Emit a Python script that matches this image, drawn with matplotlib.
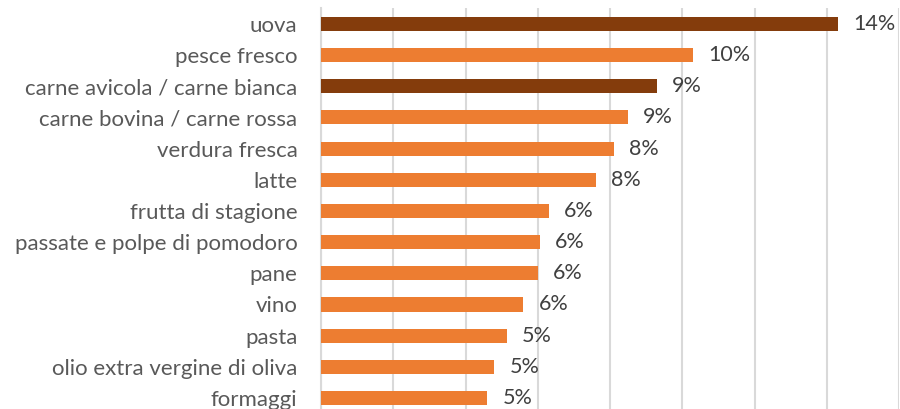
import matplotlib
matplotlib.use("Agg")
import matplotlib.pyplot as plt
import numpy as np

categories = ["uova", "pesce fresco", "carne avicola / carne bianca",
              "carne bovina / carne rossa", "verdura fresca", "latte",
              "frutta di stagione", "passate e polpe di pomodoro", "pane",
              "vino", "pasta", "olio extra vergine di oliva", "formaggi"]
values = [14.3, 10.3, 9.3, 8.5, 8.1, 7.6, 6.3, 6.05, 6.0, 5.6, 5.15, 4.8, 4.6]
labels = ["14%", "10%", "9%", "9%", "8%", "8%", "6%", "6%", "6%", "6%", "5%", "5%", "5%"]
highlight = [True, False, True, False, False, False, False, False, False, False, False, False, False]

plt.rcParams['font.family'] = ['Lato', 'DejaVu Sans']

fig = plt.figure(figsize=(9, 4.09), dpi=100)
ax = fig.add_axes([0.3567, -0.0112, 0.999 - 0.3567, 0.9795 + 0.0112])

y = np.arange(len(categories))
colors = ["#843C0C" if h else "#ED7D31" for h in highlight]
ax.barh(y, values, height=0.45, color=colors, zorder=3)
for yi, v, lab in zip(y, values, labels):
    ax.text(v + 0.42, yi, lab, va="center", ha="left", fontsize=15.5, color="#404040")

ax.set_ylim(len(categories) - 0.5, -0.5)
ax.set_xlim(0, 16)
ax.set_xticks(np.arange(0, 17, 2))
ax.xaxis.grid(True, color="#D9D9D9", linewidth=1.5, zorder=0)
ax.tick_params(axis="x", bottom=False, labelbottom=False)
ax.set_yticks(y)
ax.set_yticklabels(categories, fontsize=16, color="#595959")
ax.tick_params(axis="y", length=0, pad=17)
for s in ["top", "right", "bottom"]:
    ax.spines[s].set_visible(False)
ax.spines["left"].set_color("#D9D9D9")
ax.spines["left"].set_linewidth(1.5)

fig.savefig("out.png", dpi=100)
